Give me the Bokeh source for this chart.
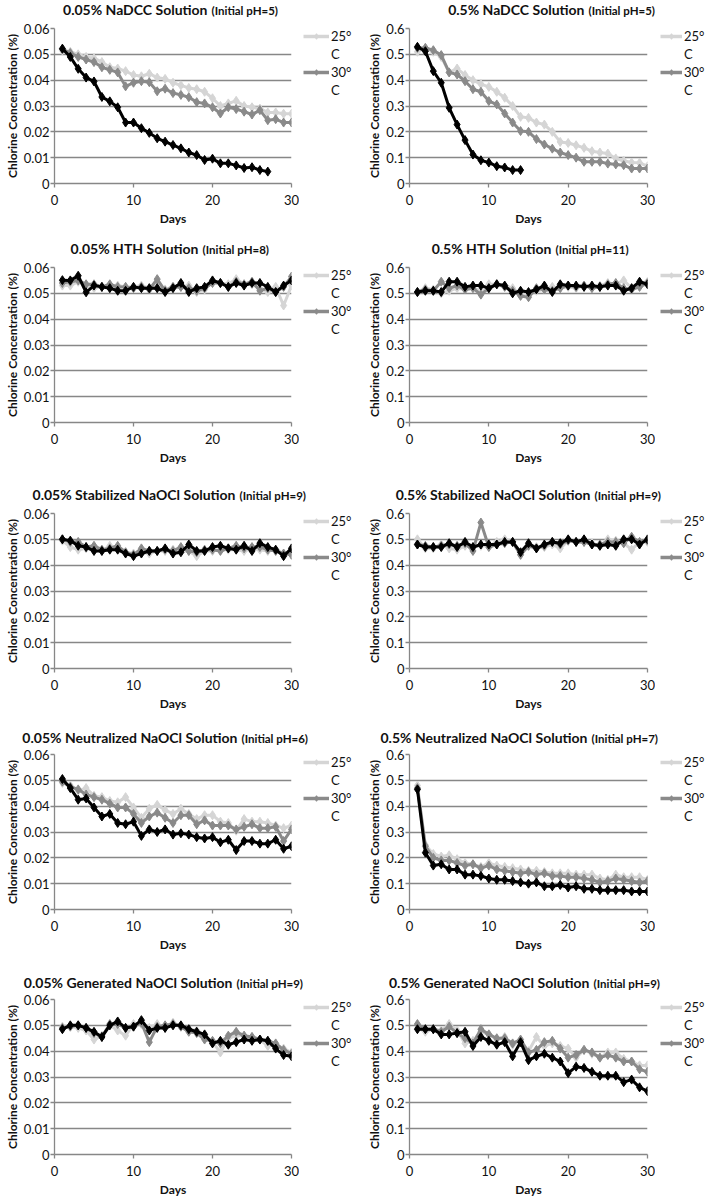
from bokeh.plotting import figure
from bokeh.models import Label, Legend, LegendItem, FixedTicker, Range1d
from bokeh.layouts import column, row
from bokeh.embed import file_html
from bokeh.resources import INLINE

# ---------------- data ----------------
days = list(range(1, 31))
x_ticks = [0, 10, 20, 30]
x_tick_labels = ["0", "10", "20", "30"]
y_ticks_low = [0, 0.01, 0.02, 0.03, 0.04, 0.05, 0.06]
y_tick_labels_low = ["0", "0.01", "0.02", "0.03", "0.04", "0.05", "0.06"]
y_ticks_high = [0, 0.1, 0.2, 0.3, 0.4, 0.5, 0.6]
y_tick_labels_high = ["0", "0.1", "0.2", "0.3", "0.4", "0.5", "0.6"]
legend_labels = ["25°", "C", "30°", "C"]

titles_main = [
    "0.05% NaDCC Solution", "0.5% NaDCC Solution",
    "0.05% HTH Solution", "0.5% HTH Solution",
    "0.05% Stabilized NaOCl Solution", "0.5% Stabilized NaOCl Solution",
    "0.05% Neutralized NaOCl Solution", "0.5% Neutralized NaOCl Solution",
    "0.05% Generated NaOCl Solution", "0.5% Generated NaOCl Solution",
]
titles_ph = [
    "(Initial pH=5)", "(Initial pH=5)",
    "(Initial pH=8)", "(Initial pH=11)",
    "(Initial pH=9)", "(Initial pH=9)",
    "(Initial pH=6)", "(Initial pH=7)",
    "(Initial pH=9)", "(Initial pH=9)",
]

nadcc005_25 = [0.0515, 0.051, 0.050, 0.049, 0.0485, 0.047, 0.045, 0.0445, 0.0435, 0.042, 0.0415, 0.0425, 0.041, 0.0405, 0.039,
               0.038, 0.037, 0.0365, 0.0355, 0.033, 0.030, 0.031, 0.032, 0.030, 0.0295, 0.029, 0.0275, 0.0275, 0.027, 0.027]
nadcc005_30 = [0.052, 0.0505, 0.049, 0.048, 0.047, 0.045, 0.044, 0.043, 0.0376, 0.039, 0.0396, 0.0392, 0.0357, 0.0367, 0.035,
               0.0343, 0.0334, 0.0315, 0.031, 0.0295, 0.0271, 0.0295, 0.0288, 0.0278, 0.0267, 0.0284, 0.0245, 0.0249, 0.0236, 0.0236]
nadcc005_35 = [0.0522, 0.049, 0.0444, 0.041, 0.0395, 0.0335, 0.0318, 0.0295, 0.0236, 0.0236, 0.0214, 0.0196, 0.0175, 0.0162,
               0.0149, 0.0136, 0.012, 0.011, 0.0091, 0.0096, 0.0078, 0.0078, 0.007, 0.006, 0.0063, 0.0052, 0.0046]

nadcc05_25 = [0.51, 0.525, 0.51, 0.49, 0.43, 0.445, 0.42, 0.40, 0.385, 0.374, 0.355, 0.332, 0.30, 0.258, 0.254,
              0.236, 0.228, 0.20, 0.161, 0.157, 0.148, 0.138, 0.125, 0.12, 0.116, 0.097, 0.088, 0.081, 0.08, 0.067]
nadcc05_30 = [0.525, 0.525, 0.516, 0.497, 0.43, 0.422, 0.396, 0.365, 0.355, 0.319, 0.306, 0.271, 0.236, 0.203, 0.20,
              0.172, 0.151, 0.135, 0.12, 0.11, 0.10, 0.084, 0.084, 0.084, 0.077, 0.074, 0.071, 0.058, 0.058, 0.058]
nadcc05_35 = [0.529, 0.512, 0.435, 0.39, 0.293, 0.228, 0.168, 0.112, 0.09, 0.081, 0.067, 0.062, 0.052, 0.052]

hth005_25 = [0.053, 0.053, 0.0545, 0.053, 0.052, 0.0525, 0.052, 0.053, 0.0525, 0.0525, 0.053, 0.052, 0.0535, 0.0515, 0.0525,
             0.0525, 0.053, 0.0505, 0.0515, 0.0545, 0.054, 0.0535, 0.0555, 0.0535, 0.0535, 0.052, 0.0505, 0.0525, 0.0453, 0.053]
hth005_30 = [0.054, 0.0545, 0.055, 0.0535, 0.0535, 0.0525, 0.0535, 0.0525, 0.0525, 0.052, 0.0525, 0.0515, 0.0555, 0.051, 0.0525,
             0.0525, 0.052, 0.051, 0.052, 0.054, 0.054, 0.0525, 0.0545, 0.0535, 0.0545, 0.051, 0.052, 0.0505, 0.0525, 0.0565]
hth005_35 = [0.0551, 0.055, 0.0568, 0.0504, 0.053, 0.0525, 0.052, 0.051, 0.051, 0.0525, 0.052, 0.052, 0.052, 0.0505, 0.052,
             0.054, 0.0505, 0.052, 0.0525, 0.055, 0.054, 0.0525, 0.054, 0.053, 0.054, 0.054, 0.0525, 0.0505, 0.053, 0.055]

hth05_25 = [0.505, 0.52, 0.515, 0.50, 0.51, 0.52, 0.515, 0.52, 0.51, 0.535, 0.535, 0.53, 0.52, 0.495, 0.50,
            0.51, 0.515, 0.525, 0.52, 0.525, 0.52, 0.53, 0.525, 0.53, 0.54, 0.535, 0.55, 0.52, 0.54, 0.545]
hth05_30 = [0.505, 0.515, 0.51, 0.545, 0.52, 0.53, 0.515, 0.52, 0.495, 0.52, 0.535, 0.525, 0.51, 0.49, 0.485,
            0.52, 0.515, 0.51, 0.52, 0.53, 0.525, 0.53, 0.52, 0.525, 0.535, 0.54, 0.52, 0.515, 0.525, 0.54]
hth05_35 = [0.505, 0.51, 0.51, 0.505, 0.545, 0.545, 0.525, 0.53, 0.53, 0.52, 0.535, 0.53, 0.50, 0.51, 0.505,
            0.515, 0.53, 0.505, 0.535, 0.53, 0.53, 0.525, 0.53, 0.525, 0.53, 0.53, 0.51, 0.52, 0.545, 0.535]

stab005_25 = [0.0495, 0.047, 0.046, 0.0465, 0.046, 0.0455, 0.0475, 0.0465, 0.045, 0.0445, 0.045, 0.0445, 0.0455, 0.0455, 0.046,
              0.0455, 0.0455, 0.0435, 0.0455, 0.0455, 0.046, 0.046, 0.046, 0.0455, 0.0465, 0.046, 0.0455, 0.046, 0.0445, 0.044]
stab005_30 = [0.050, 0.049, 0.049, 0.047, 0.0475, 0.046, 0.0465, 0.0475, 0.045, 0.044, 0.0465, 0.0455, 0.0455, 0.046, 0.0455,
              0.047, 0.0455, 0.045, 0.046, 0.046, 0.0455, 0.0465, 0.0475, 0.0465, 0.047, 0.047, 0.046, 0.0455, 0.0445, 0.044]
stab005_35 = [0.050, 0.0495, 0.0475, 0.047, 0.0455, 0.0455, 0.046, 0.046, 0.0445, 0.0435, 0.0445, 0.0455, 0.0455, 0.0465, 0.0445,
              0.045, 0.048, 0.0455, 0.0455, 0.047, 0.0475, 0.0465, 0.046, 0.0475, 0.0455, 0.0485, 0.047, 0.046, 0.0435, 0.0465]

stab05_25 = [0.50, 0.465, 0.465, 0.48, 0.465, 0.46, 0.475, 0.47, 0.475, 0.475, 0.49, 0.50, 0.49, 0.44, 0.475,
             0.47, 0.47, 0.48, 0.465, 0.495, 0.49, 0.49, 0.485, 0.475, 0.50, 0.495, 0.485, 0.46, 0.49, 0.49]
stab05_30 = [0.48, 0.475, 0.47, 0.475, 0.48, 0.475, 0.485, 0.455, 0.565, 0.47, 0.48, 0.485, 0.49, 0.44, 0.475,
             0.465, 0.475, 0.49, 0.48, 0.495, 0.49, 0.49, 0.48, 0.48, 0.49, 0.49, 0.485, 0.51, 0.49, 0.495]
stab05_35 = [0.48, 0.47, 0.47, 0.47, 0.485, 0.47, 0.49, 0.47, 0.48, 0.48, 0.48, 0.49, 0.49, 0.45, 0.485,
             0.465, 0.48, 0.49, 0.485, 0.50, 0.49, 0.50, 0.48, 0.475, 0.48, 0.475, 0.50, 0.50, 0.48, 0.50]

neut005_25 = [0.049, 0.048, 0.046, 0.047, 0.044, 0.0435, 0.042, 0.0415, 0.0435, 0.0395, 0.0355, 0.039, 0.0405, 0.0385, 0.037,
              0.039, 0.037, 0.035, 0.0365, 0.0365, 0.034, 0.0335, 0.0305, 0.035, 0.034, 0.034, 0.0335, 0.0325, 0.0315, 0.0325]
neut005_30 = [0.0495, 0.0475, 0.0465, 0.0445, 0.0435, 0.0425, 0.041, 0.0395, 0.0395, 0.037, 0.0335, 0.036, 0.0375, 0.0355, 0.0335,
              0.0365, 0.0365, 0.033, 0.0345, 0.0325, 0.0325, 0.0325, 0.031, 0.032, 0.033, 0.0315, 0.0315, 0.032, 0.0265, 0.031]
neut005_35 = [0.0505, 0.047, 0.0425, 0.043, 0.0395, 0.036, 0.037, 0.0335, 0.033, 0.034, 0.0285, 0.031, 0.030, 0.031, 0.029,
              0.0295, 0.029, 0.028, 0.0275, 0.028, 0.026, 0.027, 0.023, 0.0265, 0.0265, 0.0255, 0.0255, 0.027, 0.0235, 0.0245]

neut05_25 = [0.48, 0.25, 0.215, 0.205, 0.21, 0.195, 0.18, 0.175, 0.165, 0.18, 0.17, 0.165, 0.16, 0.155, 0.15,
             0.15, 0.145, 0.14, 0.14, 0.14, 0.135, 0.135, 0.135, 0.12, 0.115, 0.135, 0.125, 0.125, 0.125, 0.115]
neut05_30 = [0.47, 0.245, 0.20, 0.19, 0.19, 0.18, 0.17, 0.175, 0.16, 0.17, 0.155, 0.15, 0.145, 0.14, 0.145,
             0.135, 0.14, 0.13, 0.13, 0.125, 0.125, 0.12, 0.115, 0.105, 0.11, 0.12, 0.115, 0.11, 0.105, 0.11]
neut05_35 = [0.465, 0.22, 0.17, 0.175, 0.155, 0.155, 0.135, 0.135, 0.13, 0.12, 0.115, 0.115, 0.11, 0.105, 0.10,
             0.105, 0.09, 0.09, 0.095, 0.085, 0.09, 0.08, 0.08, 0.075, 0.075, 0.075, 0.075, 0.07, 0.07, 0.07]

gen005_25 = [0.0495, 0.0495, 0.049, 0.048, 0.0445, 0.046, 0.050, 0.048, 0.046, 0.0505, 0.0505, 0.049, 0.0505, 0.049, 0.051,
             0.0495, 0.0485, 0.048, 0.0455, 0.0435, 0.0395, 0.045, 0.046, 0.046, 0.0455, 0.0445, 0.042, 0.0425, 0.041, 0.0395]
gen005_30 = [0.049, 0.0495, 0.050, 0.049, 0.047, 0.0455, 0.0505, 0.0505, 0.049, 0.0495, 0.051, 0.0435, 0.0495, 0.050, 0.0505,
             0.0495, 0.0475, 0.047, 0.0445, 0.044, 0.043, 0.046, 0.0475, 0.046, 0.0455, 0.0445, 0.044, 0.043, 0.0405, 0.039]
gen005_35 = [0.0485, 0.050, 0.050, 0.049, 0.0475, 0.0455, 0.050, 0.0515, 0.049, 0.0495, 0.052, 0.048, 0.049, 0.049, 0.050,
             0.050, 0.0485, 0.0475, 0.0465, 0.043, 0.044, 0.0425, 0.0435, 0.0445, 0.044, 0.0445, 0.044, 0.041, 0.0385, 0.038]

gen05_25 = [0.49, 0.475, 0.485, 0.48, 0.505, 0.48, 0.43, 0.44, 0.475, 0.465, 0.445, 0.455, 0.425, 0.44, 0.40,
            0.455, 0.42, 0.43, 0.42, 0.41, 0.375, 0.405, 0.39, 0.375, 0.395, 0.395, 0.37, 0.36, 0.345, 0.345]
gen05_30 = [0.505, 0.485, 0.485, 0.475, 0.495, 0.47, 0.45, 0.43, 0.485, 0.465, 0.45, 0.45, 0.43, 0.445, 0.395,
            0.405, 0.435, 0.44, 0.41, 0.375, 0.385, 0.405, 0.395, 0.375, 0.385, 0.375, 0.36, 0.36, 0.33, 0.32]
gen05_35 = [0.485, 0.485, 0.485, 0.465, 0.465, 0.47, 0.475, 0.42, 0.455, 0.44, 0.425, 0.435, 0.38, 0.435, 0.365,
            0.38, 0.39, 0.375, 0.36, 0.315, 0.34, 0.335, 0.32, 0.305, 0.305, 0.305, 0.28, 0.29, 0.26, 0.245]

panel_series = [
    (nadcc005_25, nadcc005_30, nadcc005_35), (nadcc05_25, nadcc05_30, nadcc05_35),
    (hth005_25, hth005_30, hth005_35), (hth05_25, hth05_30, hth05_35),
    (stab005_25, stab005_30, stab005_35), (stab05_25, stab05_30, stab05_35),
    (neut005_25, neut005_30, neut005_35), (neut05_25, neut05_30, neut05_35),
    (gen005_25, gen005_30, gen005_35), (gen05_25, gen05_30, gen05_35),
]

# ---------------- layout / style ----------------
FONT = "Lato"
CELL_W = 353
FRAME_H = 155
PLOT_TOP = 8            # space above frame inside the plot figure
STRIP_H = [20, 22, 22, 22, 22]       # title strip heights
PLOT_BOTTOM = [54, 61, 56, 60, 44]   # space below frame (x axis)
TITLE_MID = [11, 11, 11, 9, 9]       # title centre, px above bottom of strip
COL_LEFT = [54, 56]
COL_FRAME_W = [237, 238]
PLOT_RIGHT = 8
LEG_LEFT = [4, 5]
LEG_GLYPH_W = [26, 22]
# x position (px in the cell) where the main title text ends
TITLE_SPLIT = [207, 231, 198, 198, 235, 237, 237, 234, 232, 236]
COLORS = ["#d5d5d5", "#8a8a8a", "#000000"]
GRID = "#878787"
TXT = "#111111"


def title_strip(i, r):
    h = STRIP_H[r]
    t = figure(width=CELL_W, height=h, title=None, toolbar_location=None, output_backend="svg",
               x_range=Range1d(0, CELL_W), y_range=Range1d(0, h),
               x_axis_location=None, y_axis_location=None, min_border=0)
    t.outline_line_color = None
    t.grid.visible = False
    sx = TITLE_SPLIT[i]
    ym = TITLE_MID[r]
    t.add_layout(Label(x=sx, y=ym, text=titles_main[i], text_align="right", text_baseline="middle",
                       text_font=FONT, text_font_size="14px", text_font_style="bold", text_color=TXT))
    t.add_layout(Label(x=sx + 4, y=ym - 1, text=titles_ph[i], text_align="left", text_baseline="middle",
                       text_font=FONT, text_font_size="11.5px", text_font_style="bold", text_color=TXT))
    return t


def plot_fig(i, r, c):
    low = (c == 0)
    ymax = 0.06 if low else 0.6
    yt = y_ticks_low if low else y_ticks_high
    ytl = y_tick_labels_low if low else y_tick_labels_high
    p = figure(frame_width=COL_FRAME_W[c], frame_height=FRAME_H, title=None,
               output_backend="svg", toolbar_location=None,
               x_range=Range1d(0, 30), y_range=Range1d(0, ymax),
               min_border_left=COL_LEFT[c], min_border_right=PLOT_RIGHT,
               min_border_top=PLOT_TOP, min_border_bottom=PLOT_BOTTOM[r])
    p.outline_line_color = None
    p.xgrid.visible = False
    p.ygrid.grid_line_color = GRID
    p.ygrid.grid_line_width = 1.3

    p.xaxis.ticker = FixedTicker(ticks=x_ticks)
    p.xaxis.major_label_overrides = dict(zip(x_ticks, x_tick_labels))
    p.yaxis.ticker = FixedTicker(ticks=yt)
    p.yaxis.major_label_overrides = dict(zip(yt, ytl))
    for ax in (p.xaxis[0], p.yaxis[0]):
        ax.axis_line_color = GRID
        ax.axis_line_width = 1.3
        ax.major_tick_line_color = GRID
        ax.major_tick_line_width = 1.3
        ax.major_tick_out = 4
        ax.major_tick_in = 0
        ax.minor_tick_line_color = None
        ax.major_label_text_font = FONT
        ax.major_label_text_font_size = "13px"
        ax.major_label_text_color = TXT
        ax.axis_label_text_font = FONT
        ax.axis_label_text_font_size = "12px"
        ax.axis_label_text_font_style = "bold"
        ax.axis_label_text_color = TXT
    p.xaxis.axis_label = "Days"
    p.xaxis.major_label_standoff = 7
    p.xaxis.axis_label_standoff = 3
    p.yaxis.axis_label = "Chlorine Concentration (%)"
    p.yaxis.major_label_standoff = 1
    p.yaxis.axis_label_standoff = 1

    for vals, col in zip(panel_series[i], COLORS):
        xs = days[:len(vals)]
        p.line(xs, vals, line_color=col, line_width=3)
        p.scatter(xs, vals, marker="diamond", size=9, fill_color=col, line_color=col)
    return p


def legend_fig(i, r, c, plot_w):
    ph = PLOT_TOP + FRAME_H + PLOT_BOTTOM[r]
    lw = CELL_W - plot_w
    # ranges lie outside the data on purpose: this figure only carries the legend
    lf = figure(width=lw, height=ph, title=None, toolbar_location=None, output_backend="svg",
                x_range=Range1d(100, 101), y_range=Range1d(100, 101),
                x_axis_location=None, y_axis_location=None,
                min_border_left=LEG_LEFT[c], min_border_right=0,
                min_border_top=PLOT_TOP, min_border_bottom=0)
    lf.outline_line_color = None
    lf.grid.visible = False
    rl = []
    for vals, col in zip(panel_series[i][:2], COLORS[:2]):
        xs = days[:len(vals)]
        ln = lf.line(xs, vals, line_color=col, line_width=3.5)
        sc = lf.scatter(xs, vals, marker="diamond", size=9, fill_color=col, line_color=col)
        rl.append([ln, sc])
    d1 = lf.line(days, panel_series[i][0], line_alpha=0)
    d2 = lf.line(days, panel_series[i][1], line_alpha=0)
    items = [LegendItem(label=legend_labels[0], renderers=rl[0]),
             LegendItem(label=legend_labels[1], renderers=[d1]),
             LegendItem(label=legend_labels[2], renderers=rl[1]),
             LegendItem(label=legend_labels[3], renderers=[d2])]
    leg = Legend(items=items, location="top_left", margin=0, padding=0, spacing=2,
                 glyph_width=LEG_GLYPH_W[c], glyph_height=14, label_height=14, label_standoff=2,
                 label_text_font=FONT, label_text_font_size="13px", label_text_color=TXT,
                 border_line_alpha=0, background_fill_alpha=0)
    lf.add_layout(leg)
    return lf


rows = []
for r in range(5):
    cells = []
    for c in range(2):
        i = 2 * r + c
        plot_w = COL_LEFT[c] + COL_FRAME_W[c] + PLOT_RIGHT
        cells.append(column(title_strip(i, r), row(plot_fig(i, r, c), legend_fig(i, r, c, plot_w))))
    rows.append(row(*cells))
layout = column(*rows)

open("out.html", "w").write(file_html(layout, INLINE))
